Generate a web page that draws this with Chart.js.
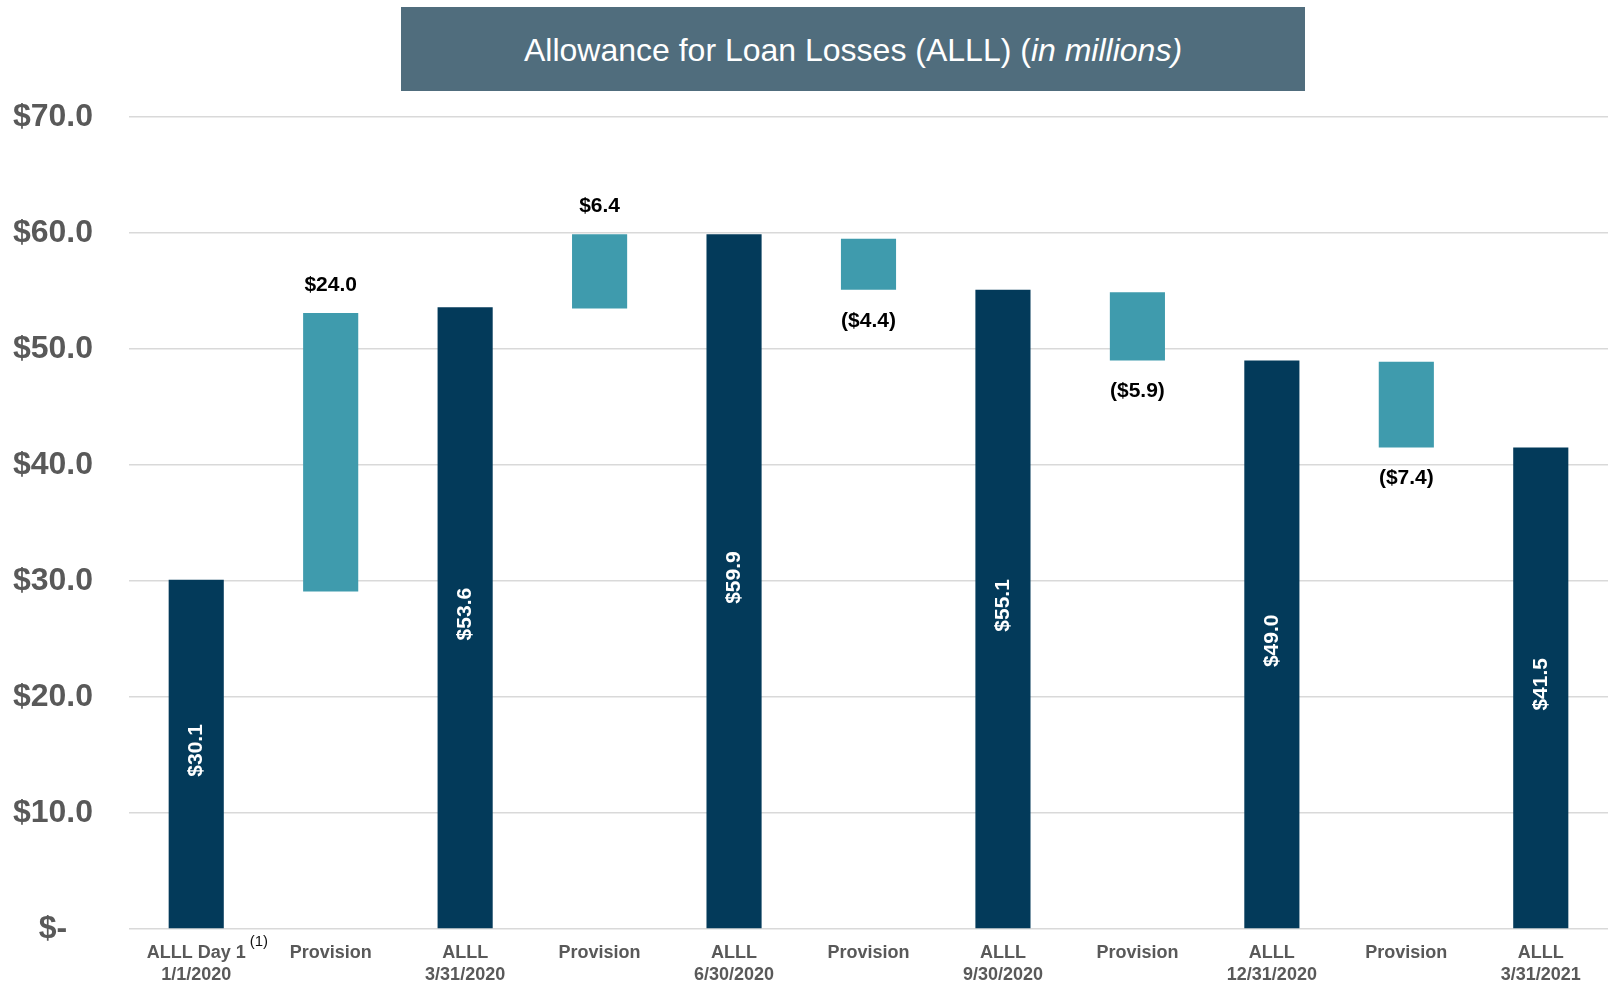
<!DOCTYPE html>
<html>
<head>
<meta charset="utf-8">
<script src="https://cdn.jsdelivr.net/npm/chart.js@4/dist/chart.umd.min.js"></script>
<style>
  body { margin: 0; background: #fff; }
  #wrap { position: relative; width: 1608px; height: 981px; }
  #chart { display: block; }
  #title {
    position: absolute; left: 401px; top: 7px; width: 904px; height: 84px;
    background: #506d7d; color: #fff; font-family: "Liberation Sans", Arial, sans-serif;
    font-size: 32px; line-height: 86px; text-align: center;
  }
</style>
</head>
<body>
<div id="wrap">
  <canvas id="chart" width="1608" height="981"></canvas>
  <div id="title">Allowance for Loan Losses (ALLL) (<i>in millions)</i></div>
</div>
<script>
// categories (x axis, two lines each)
var categories = [
  ['ALLL Day 1', '1/1/2020'], 'Provision', ['ALLL', '3/31/2020'], 'Provision',
  ['ALLL', '6/30/2020'], 'Provision', ['ALLL', '9/30/2020'], 'Provision',
  ['ALLL', '12/31/2020'], 'Provision', ['ALLL', '3/31/2021']
];
// bar bottoms and tops
var barLow  = [0, 29.1, 0, 53.5, 0, 55.1, 0, 49.0, 0, 41.5, 0];
var barHigh = [30.1, 53.1, 53.6, 59.9, 59.9, 59.5, 55.1, 54.9, 49.0, 48.9, 41.5];
// printed values
var shownValues = [30.1, 24.0, 53.6, 6.4, 59.9, -4.4, 55.1, -5.9, 49.0, -7.4, 41.5];
var isBalance = [true, false, true, false, true, false, true, false, true, false, true];
var yTicks = [0, 10, 20, 30, 40, 50, 60, 70];

var DARK = '#033a5a';
var TEAL = '#3f9bad';
var FONT = '"Liberation Sans", Arial, sans-serif';

function money(v) {
  var s = '$' + Math.abs(v).toFixed(1);
  return v < 0 ? '(' + s + ')' : s;
}

var barData = [];
for (var i = 0; i < categories.length; i++) {
  barData.push([barLow[i], barHigh[i]]);
}

var labelPlugin = {
  id: 'valueLabels',
  afterDatasetsDraw: function(chart) {
    var ctx = chart.ctx;
    var meta = chart.getDatasetMeta(0);
    var y = chart.scales.y;
    ctx.save();
    ctx.font = 'bold 21px ' + FONT;
    for (var i = 0; i < meta.data.length; i++) {
      var bar = meta.data[i];
      var v = shownValues[i];
      if (isBalance[i]) {
        var mid = (y.getPixelForValue(barLow[i]) + y.getPixelForValue(barHigh[i])) / 2 - 4;
        ctx.save();
        ctx.translate(bar.x, mid);
        ctx.rotate(-Math.PI / 2);
        ctx.fillStyle = '#ffffff';
        ctx.textAlign = 'center';
        ctx.textBaseline = 'middle';
        ctx.fillText(money(v), 0, 0);
        ctx.restore();
      } else {
        ctx.fillStyle = '#000000';
        ctx.textAlign = 'center';
        ctx.textBaseline = 'middle';
        if (v >= 0) {
          ctx.fillText(money(v), bar.x, y.getPixelForValue(barHigh[i]) - 28);
        } else {
          ctx.fillText(money(v), bar.x, y.getPixelForValue(barLow[i]) + 31);
        }
      }
    }
    // footnote marker after first category label
    var x = chart.scales.x;
    ctx.font = 'bold 18px ' + FONT;
    var w = ctx.measureText('ALLL Day 1').width;
    ctx.font = '15px ' + FONT;
    ctx.fillStyle = '#111';
    ctx.textAlign = 'left';
    ctx.textBaseline = 'middle';
    ctx.fillText('(1)', x.getPixelForValue(0) + w / 2 + 4, chart.chartArea.bottom + 13);
    ctx.restore();
  }
};

new Chart(document.getElementById('chart'), {
  type: 'bar',
  data: {
    labels: categories,
    datasets: [{
      data: barData,
      backgroundColor: isBalance.map(function(b) { return b ? DARK : TEAL; }),
      borderWidth: 0,
      barPercentage: 0.41,
      categoryPercentage: 1.0
    }]
  },
  options: {
    responsive: false,
    animation: false,
    layout: { padding: { top: 117, right: 0, left: 0, bottom: 0 } },
    plugins: { legend: { display: false }, tooltip: { enabled: false } },
    scales: {
      x: {
        grid: { display: false, drawTicks: false },
        border: { display: false },
        ticks: {
          color: '#595959',
          font: { family: FONT, size: 18, weight: 'bold', lineHeight: 1.17 },
          padding: 14,
          maxRotation: 0,
          autoSkip: false
        },
        afterFit: function(s) { s.height = 52; }
      },
      y: {
        min: 0,
        max: 70,
        afterBuildTicks: function(s) {
          s.ticks = yTicks.map(function(v) { return { value: v }; });
        },
        grid: { color: '#d9d9d9', lineWidth: 1.5, drawTicks: false },
        border: { display: false },
        ticks: {
          color: '#595959',
          font: { family: FONT, size: 32, weight: 'bold' },
          padding: 36,
          crossAlign: 'center',
          callback: function(v) { return v === 0 ? '$-' : '$' + v.toFixed(1); }
        },
        afterFit: function(s) {
          s.width = 129;
          s.paddingTop = 0;
          s.paddingBottom = 0;
        }
      }
    }
  },
  plugins: [labelPlugin]
});
</script>
</body>
</html>
